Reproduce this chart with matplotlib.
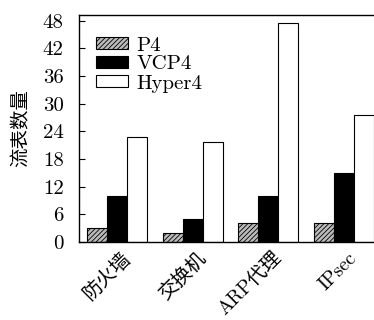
import numpy as np
import matplotlib
matplotlib.use("Agg")
import matplotlib.pyplot as plt
from matplotlib.transforms import ScaledTranslation

plt.rcParams['font.family'] = ['cmr10', 'Noto Sans CJK SC', 'DejaVu Sans']
plt.rcParams['axes.formatter.use_mathtext'] = True
plt.rcParams['hatch.linewidth'] = 0.6

categories = ['防火墙', '交换机', 'ARP代理', 'IPsec']
series_names = ['P4', 'VCP4', 'Hyper4']
p4 = [3, 2, 4, 4]
vcp4 = [10, 5, 10, 15]
hyper4 = [22.7, 21.7, 47.5, 27.6]
yticks = [0, 6, 12, 18, 24, 30, 36, 42, 48]

fig = plt.figure(figsize=(3.74, 3.2), dpi=100)
ax = fig.add_axes([0.211, 0.244, 0.81, 0.709])

x = np.arange(len(categories))
w = 0.264
styles = [dict(color='#bbbbbb', hatch='///////'),
          dict(color='black'),
          dict(color='white')]
for i, (vals, st) in enumerate(zip([p4, vcp4, hyper4], styles)):
    ax.bar(x + (i - 1) * w, vals, w, facecolor=st['color'], edgecolor='black',
           linewidth=0.8, hatch=st.get('hatch'), label=series_names[i])

ax.set_xlim(-0.5, 3.5)
ax.set_ylim(0, 49.2)
ax.set_yticks(yticks)
ax.set_yticklabels([str(t) for t in yticks], fontsize=15)
ax.tick_params(axis='y', direction='in', length=4, pad=11)
ax.tick_params(axis='x', length=0, pad=5)
ax.set_xticks(x)
ax.set_xticklabels(categories, fontsize=14, rotation=45, ha='right',
                   rotation_mode='anchor')
# nudge the rotated labels a bit to the right, like the original
shift = ScaledTranslation(4 / 100, 0, fig.dpi_scale_trans)
for lab in ax.get_xticklabels():
    lab.set_transform(lab.get_transform() + shift)

ax.set_ylabel('流表数量', fontsize=14)
ax.yaxis.set_label_coords(-0.16, 0.5)
for s in ax.spines.values():
    s.set_linewidth(1.0)

ax.legend(loc='upper left', bbox_to_anchor=(0.056, 0.905), frameon=False,
          fontsize=15, handlelength=1.55, handleheight=0.45, labelspacing=0.05,
          handletextpad=0.4, borderaxespad=0, borderpad=0)

fig.savefig('out.png', dpi=100)
